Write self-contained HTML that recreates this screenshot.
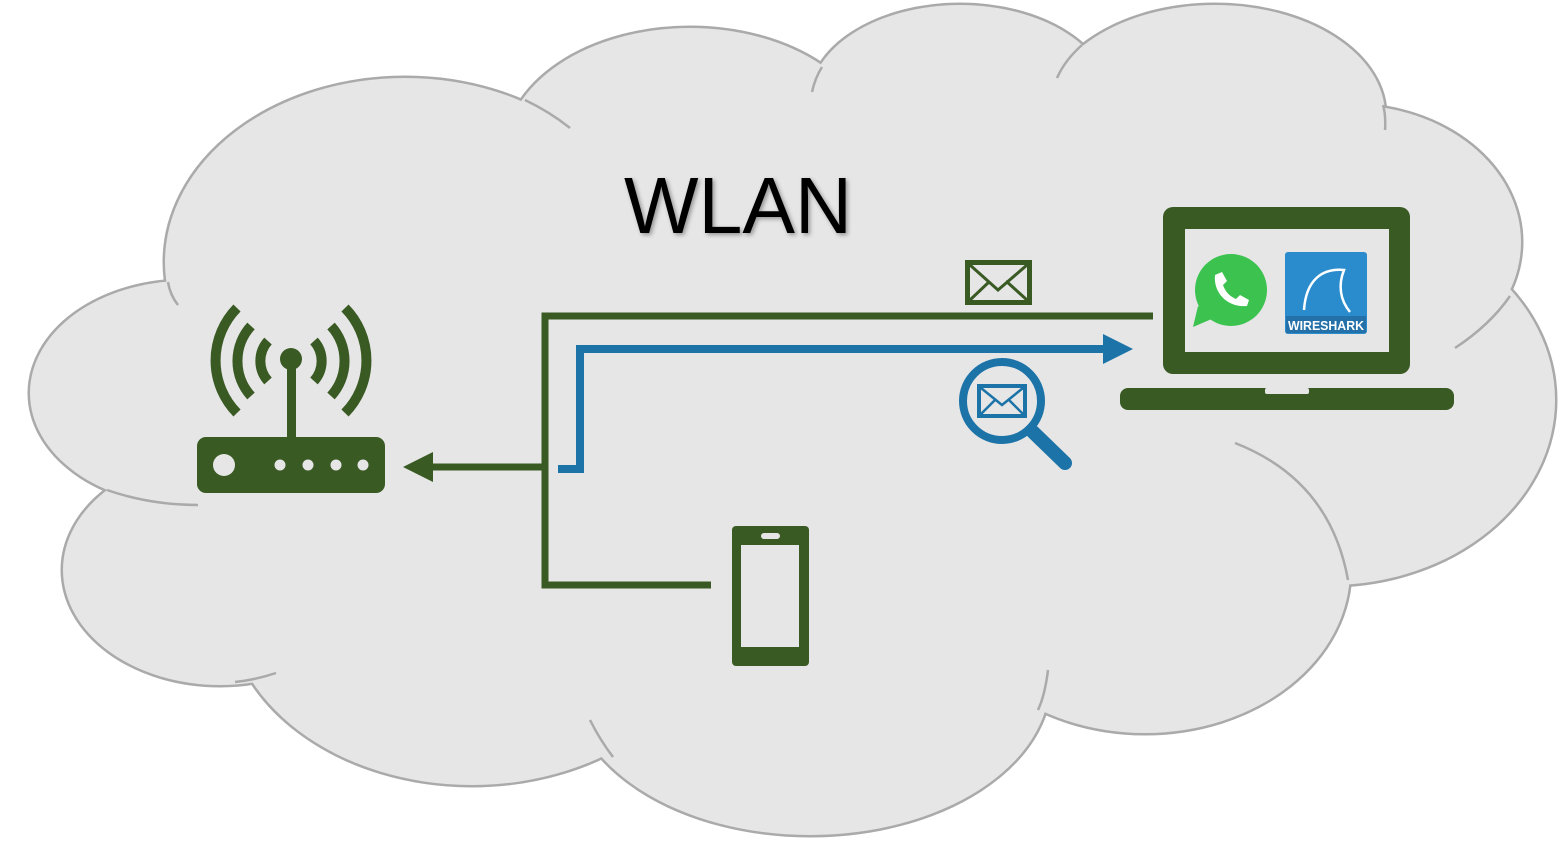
<!DOCTYPE html>
<html><head><meta charset="utf-8"><style>html,body{margin:0;padding:0;background:#fff}svg{display:block}</style></head>
<body>
<svg width="1566" height="848" viewBox="0 0 1566 848" xmlns="http://www.w3.org/2000/svg">
<defs>
<g id="cl">
<ellipse cx="405" cy="262" rx="240" ry="184"/>
<ellipse cx="185" cy="393" rx="155" ry="112"/>
<ellipse cx="220" cy="570" rx="157" ry="115"/>
<ellipse cx="472" cy="600" rx="245" ry="185"/>
<ellipse cx="810" cy="680" rx="240" ry="155"/>
<ellipse cx="1145" cy="570" rx="205" ry="163"/>
<ellipse cx="1330" cy="400" rx="225" ry="185"/>
<ellipse cx="1350" cy="242" rx="171" ry="137"/>
<ellipse cx="1215" cy="115" rx="170" ry="110"/>
<ellipse cx="960" cy="100" rx="150" ry="95"/>
<ellipse cx="690" cy="152" rx="185" ry="124"/>
</g>
</defs>
<use href="#cl" fill="#e6e6e6" stroke="#aaaaaa" stroke-width="5"/>
<use href="#cl" fill="#e6e6e6"/>
<ellipse cx="800" cy="420" rx="520" ry="260" fill="#e6e6e6"/>
<ellipse cx="1150" cy="260" rx="260" ry="130" fill="#e6e6e6"/>
<g fill="none" stroke="#aaaaaa" stroke-width="2.5">
 <path d="M525 100 Q550 112 570 128"/>
 <path d="M822 67 Q815 78 812 92"/>
 <path d="M1082 45 Q1065 60 1057 78"/>
 <path d="M1383 105 Q1386 115 1385 130"/>
 <path d="M1510 296 Q1490 325 1455 348"/>
 <path d="M1235 443 Q1330 480 1348 580"/>
 <path d="M1048 670 Q1045 695 1038 710"/>
 <path d="M590 720 Q600 740 613 757"/>
 <path d="M235 682 Q255 680 276 673"/>
 <path d="M107 490 Q150 505 198 505"/>
 <path d="M168 282 Q170 295 178 305"/>
</g>
<text x="624" y="233" font-family="Liberation Sans, sans-serif" font-size="80" textLength="228" lengthAdjust="spacingAndGlyphs" fill="#000" style="filter:drop-shadow(2px 2px 2px rgba(0,0,0,0.35))">WLAN</text>

<g fill="#3a5a24" stroke="none">
 <rect x="197" y="437" width="188" height="56" rx="9"/>
 <rect x="287" y="360" width="9" height="80"/>
 <circle cx="291" cy="359" r="11"/>
</g>
<g fill="#e6e6e6"><circle cx="224" cy="465" r="11"/><circle cx="280" cy="465" r="5.5"/><circle cx="308" cy="465" r="5.5"/><circle cx="336" cy="465" r="5.5"/><circle cx="363" cy="465" r="5.5"/></g>
<g fill="none" stroke="#3a5a24" stroke-width="10">
 <path d="M268 341 A30 30 0 0 0 268 381"/>
 <path d="M314 341 A30 30 0 0 1 314 381"/>
 <path d="M251 326 A52 52 0 0 0 251 396"/>
 <path d="M331 326 A52 52 0 0 1 331 396"/>
 <path d="M237 308 A75 75 0 0 0 237 413"/>
 <path d="M345 308 A75 75 0 0 1 345 413"/>
</g>

<g stroke="#3a5a24" stroke-width="7" fill="none">
 <path d="M545 467 L430 467"/>
 <path d="M1153 316 L545 316 L545 585 L711 585"/>
</g>
<polygon points="403,467 433,452 433,482" fill="#3a5a24"/>
<path d="M558 469 L580 469 L580 349 L1105 349" stroke="#1c73a8" stroke-width="8" fill="none"/>
<polygon points="1133,349 1103,334 1103,364" fill="#1c73a8"/>

<rect x="965" y="260" width="67" height="45" fill="#3a5a24"/>
<rect x="970" y="265" width="57" height="35" fill="#e6e6e6"/>
<path d="M970 265 L998 290 L1027 265 M970 300 L990 281 M1027 300 L1006 281" stroke="#3a5a24" stroke-width="3" fill="none"/>

<circle cx="1002" cy="401" r="39" fill="none" stroke="#1c73a8" stroke-width="8"/>
<path d="M1033 432 L1065 463" stroke="#1c73a8" stroke-width="14" stroke-linecap="round"/>
<path d="M1028 428 L1040 440" stroke="#1c73a8" stroke-width="8"/>
<rect x="977" y="384" width="50" height="34" fill="#1c73a8"/>
<rect x="981" y="388" width="42" height="26" fill="#e6e6e6"/>
<path d="M981 388 L1002 405 L1023 388 M981 414 L995 400 M1023 414 L1009 400" stroke="#1c73a8" stroke-width="2.5" fill="none"/>

<rect x="1163" y="207" width="247" height="167" rx="10" fill="#3a5a24"/>
<rect x="1185" y="229" width="204" height="123" fill="#e6e6e6"/>
<rect x="1120" y="388" width="334" height="22" rx="8" fill="#3a5a24"/>
<rect x="1265" y="388" width="44" height="6" rx="2" fill="#e6e6e6"/>
<circle cx="1231" cy="290" r="36" fill="#3cc24f"/>
<polygon points="1198,306 1193,327 1214,318" fill="#3cc24f"/>
<path d="M1215 275 C1213 293 1228 308 1247 306 L1249 300 L1240 295 L1236 299 C1229 296 1225 291 1223 285 L1227 281 L1222 272 Z" fill="#fff"/>
<rect x="1285" y="252" width="82" height="82" rx="3" fill="#2a8ccc"/>
<path d="M1304 310 C1306 280 1322 268 1344 270 C1338 285 1340 300 1350 312" stroke="#fff" stroke-width="2.5" fill="none"/>
<rect x="1286" y="316" width="80" height="17" fill="#2470a8"/>
<text x="1326" y="330" font-family="Liberation Sans, sans-serif" font-size="13" font-weight="bold" fill="#fff" text-anchor="middle" textLength="76" lengthAdjust="spacingAndGlyphs">WIRESHARK</text>

<rect x="732" y="526" width="77" height="140" rx="4" fill="#3a5a24"/>
<rect x="741" y="545" width="58" height="102" fill="#e6e6e6"/>
<rect x="761" y="533" width="19" height="6" rx="3" fill="#e6e6e6"/>
</svg>
</body></html>
